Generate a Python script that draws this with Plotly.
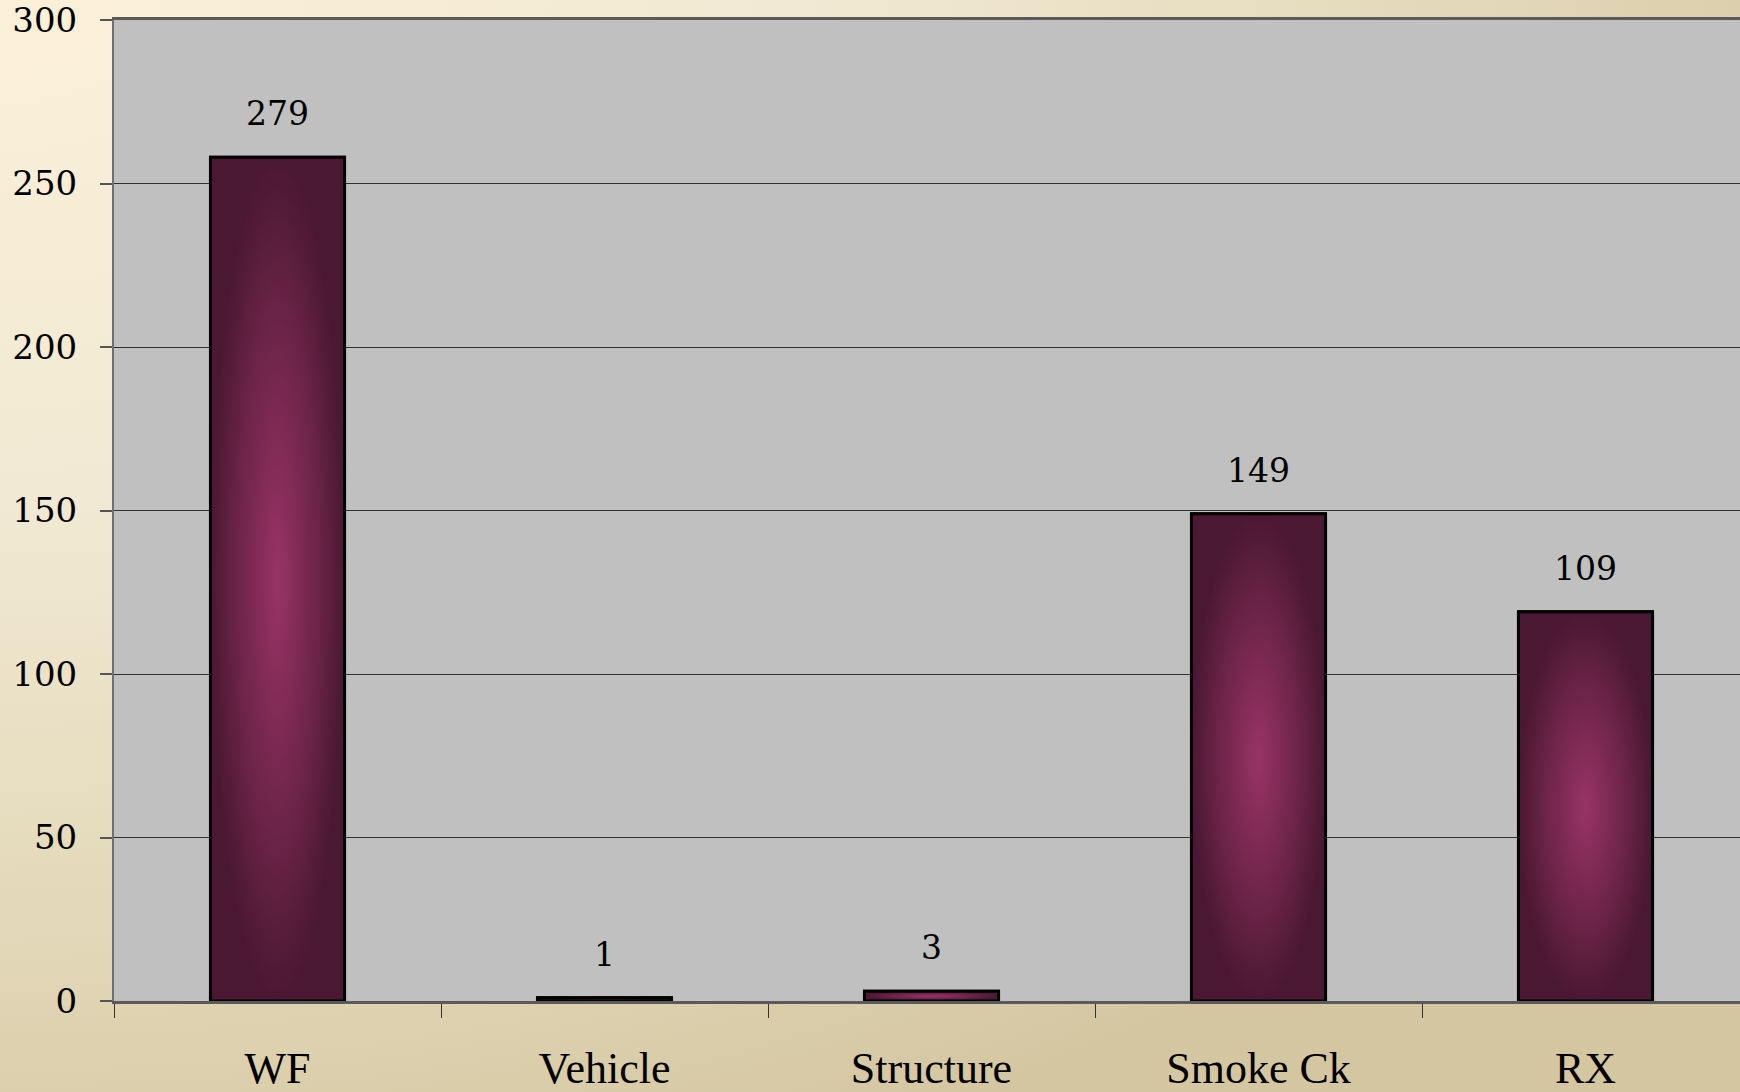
import base64
import plotly.graph_objects as go

# ---- data ----
categories = ["WF", "Vehicle", "Structure", "Smoke Ck", "RX"]
bar_values = [258, 1, 3, 149, 119]          # drawn bar heights
label_texts = ["279", "1", "3", "149", "109"]  # data labels printed above bars
y_ticks = [0, 50, 100, 150, 200, 250, 300]

# ---- styling ----
W, H = 1740, 1092
ML, MR, MT, MB = 114, 0, 20, 91
BAR_W = 0.41
DARK = "#4A1832"
LIGHT = "#993366"
PLOT_BG = "#C0C0C0"
SERIF_NUM = "DejaVu Serif"
SERIF_CAT = "Liberation Serif"

plot_w = W - ML - MR
plot_h = H - MT - MB

# page background gradient plus the grey plot area (SVG data URI)
svg = f'''<svg xmlns="http://www.w3.org/2000/svg" width="{W}" height="{H}" viewBox="0 0 {W} {H}" preserveAspectRatio="none">
<defs><radialGradient id="g" cx="0" cy="0" r="1.15" gradientUnits="objectBoundingBox">
<stop offset="0" stop-color="#FCF0D8"/>
<stop offset="0.4" stop-color="#F1E9D3"/>
<stop offset="0.75" stop-color="#E2D7B7"/>
<stop offset="1" stop-color="#D4C6A1"/>
</radialGradient></defs>
<rect width="{W}" height="{H}" fill="url(#g)"/>
<rect x="{ML}" y="{MT}" width="{plot_w}" height="{plot_h}" fill="{PLOT_BG}"/></svg>'''
bg_src = "data:image/svg+xml;base64," + base64.b64encode(svg.encode()).decode()

fig = go.Figure()

xs = list(range(len(categories)))
fig.add_trace(go.Bar(
    x=xs, y=bar_values, width=BAR_W,
    marker=dict(color=DARK, line=dict(color="black", width=3)),
    hoverinfo="skip",
))

# gradient overlay for each bar, built from the same values
hw = BAR_W / 2
for i, v in enumerate(bar_values):
    fig.add_trace(go.Scatter(
        x=[i - hw, i + hw, i + hw, i - hw, i - hw],
        y=[0, 0, v, v, 0],
        mode="lines", fill="toself",
        line=dict(color="black", width=3),
        fillgradient=dict(type="radial",
                          colorscale=[[0, LIGHT], [0.6, "#6C2448"], [1, DARK]]),
        hoverinfo="skip",
    ))

for i, (v, t) in enumerate(zip(bar_values, label_texts)):
    fig.add_annotation(x=i, y=v, text=t, showarrow=False, yanchor="bottom",
                       yshift=22, font=dict(family=SERIF_NUM, size=33, color="black"))

cat_px = 327.0
x_end = -0.5 + plot_w / cat_px

fig.update_layout(
    width=W, height=H, autosize=False,
    margin=dict(l=ML, r=MR, t=MT, b=MB, pad=0),
    paper_bgcolor="#E8DEC0",
    plot_bgcolor=PLOT_BG,
    showlegend=False,
    images=[dict(source=bg_src, xref="paper", yref="paper",
                 x=-ML / plot_w, y=1 + MT / plot_h,
                 sizex=W / plot_w, sizey=H / plot_h,
                 xanchor="left", yanchor="top", sizing="stretch", layer="below")],
    xaxis=dict(
        range=[-0.5, x_end], showgrid=False, zeroline=False, automargin=False,
        tickmode="array", tickvals=xs, ticktext=categories, ticks="",
        tickfont=dict(family=SERIF_CAT, size=44, color="black"),
        ticklabelstandoff=26, ticklabeloverflow="allow",
        showline=True, linecolor="#5A5A5A", linewidth=2.5, mirror=True,
        minor=dict(tickmode="array",
                   tickvals=[i - 0.5 for i in range(len(categories) + 1)],
                   ticks="outside", ticklen=14, tickcolor="#333333", tickwidth=1,
                   showgrid=False),
        fixedrange=True,
    ),
    yaxis=dict(
        range=[0, 300], tickmode="array", tickvals=y_ticks, automargin=False,
        ticks="outside", ticklen=12, tickcolor="#555555", tickwidth=1.5,
        tickfont=dict(family=SERIF_NUM, size=34, color="black"),
        ticklabelstandoff=16, ticklabeloverflow="allow",
        showgrid=True, gridcolor="#303030", gridwidth=1,
        zeroline=False,
        showline=True, linecolor="#707070", linewidth=2,
        fixedrange=True,
    ),
)

fig.write_html("out.html", config={"displayModeBar": False},
               post_script="document.body.style.margin='0';document.body.style.overflow='hidden';")
